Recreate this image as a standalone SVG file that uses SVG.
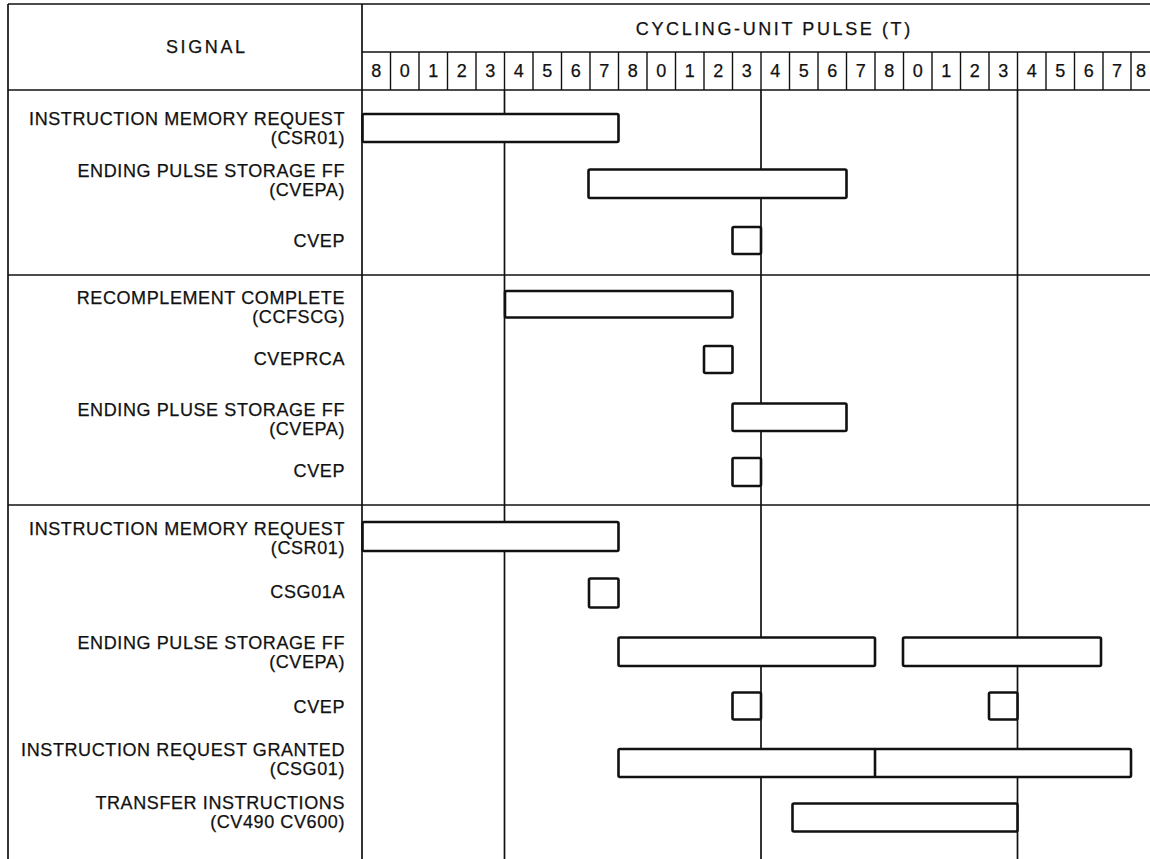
<svg xmlns="http://www.w3.org/2000/svg" width="1150" height="859" viewBox="0 0 1150 859">
<style>
.bg{fill:#ffffff}
.ln{stroke:#111;stroke-width:1.7;fill:none}
.thin{stroke:#111;stroke-width:1.4;fill:none}
.bar{fill:#fff;stroke:#111;stroke-width:2.6}
.lbl{font-family:"Liberation Sans",Arial,sans-serif;font-size:18px;letter-spacing:0.6px;fill:#111;stroke:#111;stroke-width:0.25;text-anchor:end}
.hdr{font-family:"Liberation Sans",Arial,sans-serif;font-size:18px;letter-spacing:2.6px;fill:#111;stroke:#111;stroke-width:0.25;text-anchor:middle}
.num{font-family:"Liberation Sans",Arial,sans-serif;font-size:18px;fill:#111;stroke:#111;stroke-width:0.25;text-anchor:middle}
</style>
<rect class="bg" x="0" y="0" width="1150" height="859"/>
<g id="grid">
  <line class="ln" x1="8" y1="4" x2="1150" y2="4"/>
  <line class="ln" x1="8" y1="4" x2="8" y2="859"/>
  <line class="ln" x1="362" y1="4" x2="362" y2="859"/>
  <line class="ln" x1="362" y1="52" x2="1150" y2="52"/>
  <line class="ln" x1="8" y1="90" x2="1150" y2="90"/>
  <line class="ln" x1="8" y1="275" x2="1150" y2="275"/>
  <line class="ln" x1="8" y1="505" x2="1150" y2="505"/>
  <line class="ln" x1="504.5" y1="90" x2="504.5" y2="859"/>
  <line class="ln" x1="761" y1="90" x2="761" y2="859"/>
  <line class="ln" x1="1017.5" y1="90" x2="1017.5" y2="859"/>
  <g class="thin">
    <line x1="390.5" y1="52" x2="390.5" y2="90"/>
    <line x1="419" y1="52" x2="419" y2="90"/>
    <line x1="447.5" y1="52" x2="447.5" y2="90"/>
    <line x1="476" y1="52" x2="476" y2="90"/>
    <line x1="504.5" y1="52" x2="504.5" y2="90"/>
    <line x1="533" y1="52" x2="533" y2="90"/>
    <line x1="561.5" y1="52" x2="561.5" y2="90"/>
    <line x1="590" y1="52" x2="590" y2="90"/>
    <line x1="618.5" y1="52" x2="618.5" y2="90"/>
    <line x1="647" y1="52" x2="647" y2="90"/>
    <line x1="675.5" y1="52" x2="675.5" y2="90"/>
    <line x1="704" y1="52" x2="704" y2="90"/>
    <line x1="732.5" y1="52" x2="732.5" y2="90"/>
    <line x1="761" y1="52" x2="761" y2="90"/>
    <line x1="789.5" y1="52" x2="789.5" y2="90"/>
    <line x1="818" y1="52" x2="818" y2="90"/>
    <line x1="846.5" y1="52" x2="846.5" y2="90"/>
    <line x1="875" y1="52" x2="875" y2="90"/>
    <line x1="903.5" y1="52" x2="903.5" y2="90"/>
    <line x1="932" y1="52" x2="932" y2="90"/>
    <line x1="960.5" y1="52" x2="960.5" y2="90"/>
    <line x1="989" y1="52" x2="989" y2="90"/>
    <line x1="1017.5" y1="52" x2="1017.5" y2="90"/>
    <line x1="1046" y1="52" x2="1046" y2="90"/>
    <line x1="1074.5" y1="52" x2="1074.5" y2="90"/>
    <line x1="1103" y1="52" x2="1103" y2="90"/>
    <line x1="1131" y1="52" x2="1131" y2="90"/>
  </g>
</g>
<g id="header">
  <text class="hdr" x="206.8" y="52.5">SIGNAL</text>
  <text class="hdr" x="774.3" y="34.5">CYCLING-UNIT PULSE (T)</text>
  <g class="num">
    <text x="376.25" y="77">8</text><text x="404.75" y="77">0</text><text x="433.25" y="77">1</text><text x="461.75" y="77">2</text><text x="490.25" y="77">3</text>
    <text x="518.75" y="77">4</text><text x="547.25" y="77">5</text><text x="575.75" y="77">6</text><text x="604.25" y="77">7</text><text x="632.75" y="77">8</text>
    <text x="661.25" y="77">0</text><text x="689.75" y="77">1</text><text x="718.25" y="77">2</text><text x="746.75" y="77">3</text><text x="775.25" y="77">4</text>
    <text x="803.75" y="77">5</text><text x="832.25" y="77">6</text><text x="860.75" y="77">7</text><text x="889.25" y="77">8</text><text x="917.75" y="77">0</text>
    <text x="946.25" y="77">1</text><text x="974.75" y="77">2</text><text x="1003.25" y="77">3</text><text x="1031.75" y="77">4</text><text x="1060.25" y="77">5</text>
    <text x="1088.75" y="77">6</text><text x="1117" y="77">7</text><text x="1141" y="77">8</text>
  </g>
</g>
<g id="row-csr01-a">
  <text class="lbl" x="345" y="125">INSTRUCTION MEMORY REQUEST</text>
  <text class="lbl" x="345" y="144">(CSR01)</text>
  <rect class="bar" x="362.5" y="114" width="256" height="28" rx="1.5"/>
</g>
<g id="row-cvepa-a">
  <text class="lbl" x="345" y="177">ENDING PULSE STORAGE FF</text>
  <text class="lbl" x="345" y="196">(CVEPA)</text>
  <rect class="bar" x="588.5" y="169.5" width="258" height="28.5" rx="1.5"/>
</g>
<g id="row-cvep-a">
  <text class="lbl" x="345" y="246.5">CVEP</text>
  <rect class="bar" x="732.5" y="227" width="28.5" height="27" rx="1.5"/>
</g>
<g id="row-ccfscg">
  <text class="lbl" x="345" y="303.5">RECOMPLEMENT COMPLETE</text>
  <text class="lbl" x="345" y="322.5">(CCFSCG)</text>
  <rect class="bar" x="505" y="291" width="227.5" height="26.5" rx="1.5"/>
</g>
<g id="row-cveprca">
  <text class="lbl" x="345" y="364.5">CVEPRCA</text>
  <rect class="bar" x="704" y="346" width="28.5" height="27" rx="1.5"/>
</g>
<g id="row-cvepa-b">
  <text class="lbl" x="345" y="415.5">ENDING PLUSE STORAGE FF</text>
  <text class="lbl" x="345" y="434.5">(CVEPA)</text>
  <rect class="bar" x="732.5" y="403.5" width="114" height="27.5" rx="1.5"/>
</g>
<g id="row-cvep-b">
  <text class="lbl" x="345" y="476.5">CVEP</text>
  <rect class="bar" x="732.5" y="458" width="28.5" height="28" rx="1.5"/>
</g>
<g id="row-csr01-c">
  <text class="lbl" x="345" y="534.5">INSTRUCTION MEMORY REQUEST</text>
  <text class="lbl" x="345" y="553.5">(CSR01)</text>
  <rect class="bar" x="362.5" y="522" width="256" height="29" rx="1.5"/>
</g>
<g id="row-csg01a">
  <text class="lbl" x="345" y="597.5">CSG01A</text>
  <rect class="bar" x="589" y="578.5" width="29.5" height="29" rx="1.5"/>
</g>
<g id="row-cvepa-c">
  <text class="lbl" x="345" y="648.5">ENDING PULSE STORAGE FF</text>
  <text class="lbl" x="345" y="667.5">(CVEPA)</text>
  <rect class="bar" x="618.5" y="637.5" width="256.5" height="28.5" rx="1.5"/>
  <rect class="bar" x="903" y="637.5" width="198" height="28.5" rx="1.5"/>
</g>
<g id="row-cvep-c">
  <text class="lbl" x="345" y="712.5">CVEP</text>
  <rect class="bar" x="732.5" y="692.5" width="28.5" height="27" rx="1.5"/>
  <rect class="bar" x="989" y="692.5" width="28.5" height="27" rx="1.5"/>
</g>
<g id="row-csg01">
  <text class="lbl" x="345" y="755.5">INSTRUCTION REQUEST GRANTED</text>
  <text class="lbl" x="345" y="774.5">(CSG01)</text>
  <rect class="bar" x="618.5" y="749" width="512.5" height="28" rx="1.5"/>
  <line class="bar" x1="875" y1="749" x2="875" y2="777"/>
</g>
<g id="row-transfer">
  <text class="lbl" x="345" y="808.5">TRANSFER INSTRUCTIONS</text>
  <text class="lbl" x="345" y="827.5">(CV490 CV600)</text>
  <rect class="bar" x="792.5" y="803.5" width="225" height="28" rx="1.5"/>
</g>
</svg>
